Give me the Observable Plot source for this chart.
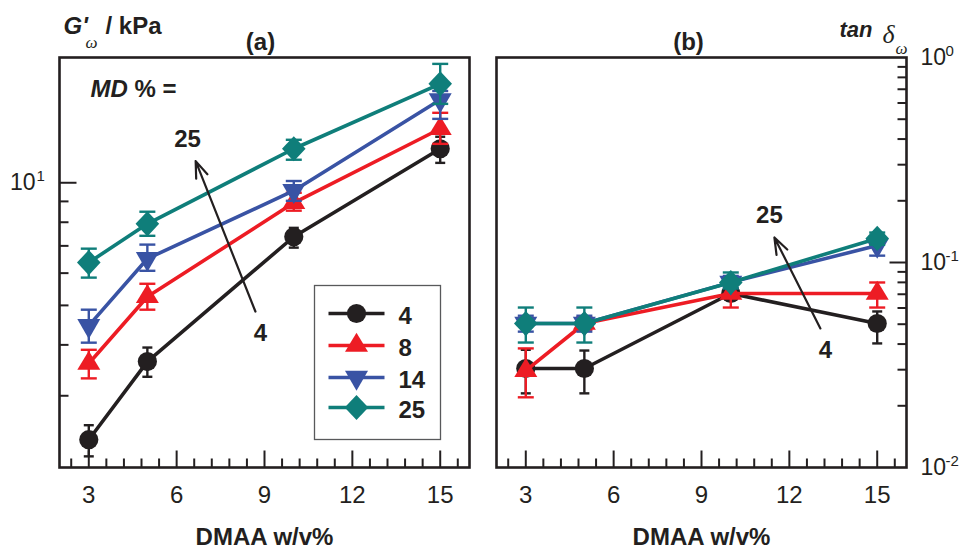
<!DOCTYPE html>
<html><head><meta charset="utf-8">
<script src="https://cdn.jsdelivr.net/npm/d3@7"></script>
<script src="https://cdn.jsdelivr.net/npm/@observablehq/plot@0.6"></script>
<style>
html,body{margin:0;padding:0;background:#fff;}
#wrap{display:flex;width:962px;height:550px;overflow:hidden;}
#wrap svg{display:block;}
</style></head><body><div id="wrap"></div>
<script>
// ---------- data ----------
const dmaa = [3, 5, 10, 15];
const mdLevels = ["4", "8", "14", "25"];
const seriesColors = ["#231f20", "#ed1c24", "#3953a4", "#0f7e7a"];

// (a) G'_omega / kPa  (value, lower, upper)
const g4   = [2.34, 3.64, 7.37, 12.12];
const g4Lo = [2.13, 3.34, 6.93, 11.19];
const g4Hi = [2.54, 3.94, 7.75, 12.97];
const g8   = [3.60, 5.25, 8.93, 13.57];
const g8Lo = [3.31, 4.88, 8.54, 12.46];
const g8Hi = [3.89, 5.65, 9.45, 14.85];
const g14   = [4.46, 6.51, 9.56, 15.98];
const g14Lo = [4.05, 6.08, 9.03, 14.35];
const g14Hi = [4.88, 7.05, 10.1, 16.8];
const g25   = [6.37, 7.93, 12.12, 17.49];
const g25Lo = [5.85, 7.41, 11.39, 15.62];
const g25Hi = [6.89, 8.49, 12.75, 19.58];

// (b) tan delta_omega
const t4   = [0.0304, 0.0304, 0.0706, 0.0504];
const t4Lo = [0.0230, 0.0230, 0.0660, 0.0403];
const t4Hi = [0.0375, 0.0372, 0.0750, 0.0577];
const t8   = [0.0297, 0.0504, 0.0706, 0.0706];
const t8Lo = [0.0220, 0.0470, 0.0603, 0.0603];
const t8Hi = [0.0381, 0.0540, 0.0790, 0.0799];
const t14   = [0.0504, 0.0504, 0.0800, 0.121];
const t14Lo = [0.0460, 0.0460, 0.0750, 0.108];
const t14Hi = [0.0550, 0.0550, 0.0860, 0.134];
const t25   = [0.0504, 0.0504, 0.0799, 0.131];
const t25Lo = [0.0407, 0.0407, 0.0747, 0.122];
const t25Hi = [0.0603, 0.0603, 0.0894, 0.140];

// axes ticks
const xMajor = [3, 6, 9, 12, 15];
const xMinor = [2.4, 3.6, 4.2, 4.8, 5.4, 6.6, 7.2, 7.8, 8.4, 9.6, 10.2, 10.8, 11.4, 12.6, 13.2, 13.8, 14.4, 15.6];
const gMajor = [10];
const gMinor = [3, 4, 5, 6, 7, 8, 9];
const gLabels = [{v: 10, base: "10", exp: "1"}];
const tMajor = [0.1];
const tMinor = [0.02, 0.03, 0.04, 0.05, 0.06, 0.07, 0.08, 0.09, 0.2, 0.3, 0.4, 0.5, 0.6, 0.7, 0.8, 0.9];
const tLabels = [{v: 1, base: "10", exp: "0"}, {v: 0.1, base: "10", exp: "-1"}, {v: 0.01, base: "10", exp: "-2"}];

// annotations
const arrowA = [{x1: 8.69, y1: 4.83, x2: 6.65, y2: 11.3}];
const notesA = [{x: 6.37, y: 12.75, text: "25"}, {x: 8.86, y: 4.26, text: "4"}];
const arrowB = [{x1: 13.06, y1: 0.0477, x2: 11.49, y2: 0.1324}];
const notesB = [{x: 11.32, y: 0.1696, text: "25"}, {x: 13.23, y: 0.0372, text: "4"}];

// ---------- helpers ----------
const ink = "#231f20";
const sans = "Liberation Sans, Arial, Helvetica, sans-serif";
const serif = "Liberation Serif, Times New Roman, serif";

const sym = {
  circle: {draw(c) { const r = 9.6; c.moveTo(r, 0); c.arc(0, 0, r, 0, 2 * Math.PI); }},
  up: {draw(c) { const w = 23, h = 19; c.moveTo(0, -2 * h / 3); c.lineTo(w / 2, h / 3); c.lineTo(-w / 2, h / 3); c.closePath(); }},
  down: {draw(c) { const w = 23, h = 20; c.moveTo(0, 2 * h / 3); c.lineTo(w / 2, -h / 3); c.lineTo(-w / 2, -h / 3); c.closePath(); }},
  diamond: {draw(c) { const w = 11.8, h = 12.6; c.moveTo(0, -h); c.lineTo(w, 0); c.lineTo(0, h); c.lineTo(-w, 0); c.closePath(); }}
};
const markerSyms = [sym.circle, sym.up, sym.down, sym.diamond];
const capW = [10, 16, 16, 16];
const hline = (a, b) => ({draw(c) { c.moveTo(a, 0); c.lineTo(b, 0); }});
const vline = (a, b) => ({draw(c) { c.moveTo(0, a); c.lineTo(0, b); }});

function rows(vals, lo, hi) {
  return dmaa.map((x, i) => ({x, v: vals[i], lo: lo[i], hi: hi[i]}));
}

function seriesMarks(sets) {
  const m = [];
  sets.forEach((data, i) => {
    const col = seriesColors[i];
    m.push(Plot.line(data, {x: "x", y: "v", stroke: col, strokeWidth: 3.6}));
    m.push(Plot.ruleX(data, {x: "x", y1: "lo", y2: "hi", stroke: col, strokeWidth: 2.4}));
    m.push(Plot.dot(data, {x: "x", y: "lo", symbol: hline(-capW[i] / 2, capW[i] / 2), stroke: col, strokeWidth: 2.4, fill: "none"}));
    m.push(Plot.dot(data, {x: "x", y: "hi", symbol: hline(-capW[i] / 2, capW[i] / 2), stroke: col, strokeWidth: 2.4, fill: "none"}));
    m.push(Plot.dot(data, {x: "x", y: "v", symbol: markerSyms[i], fill: col, stroke: "none"}));
  });
  return m;
}

function xAxisMarks() {
  return [
    Plot.dot(xMajor, {x: d => d, frameAnchor: "bottom", symbol: vline(0, -17), stroke: ink, strokeWidth: 2, fill: "none"}),
    Plot.dot(xMinor, {x: d => d, frameAnchor: "bottom", symbol: vline(0, -9), stroke: ink, strokeWidth: 2, fill: "none"}),
    Plot.text(xMajor, {x: d => d, text: d => String(d), frameAnchor: "bottom", dy: 35, lineAnchor: "bottom", fontSize: 24, fontFamily: sans, fill: ink}),
    Plot.text(["DMAA w/v%"], {frameAnchor: "bottom", dy: 77, lineAnchor: "bottom", fontSize: 24, fontWeight: "bold", fontFamily: sans, fill: ink})
  ];
}

const style = {fontFamily: sans, background: "#fff", overflow: "visible", color: ink};

// ---------- panel (a) ----------
const setsA = [rows(g4, g4Lo, g4Hi), rows(g8, g8Lo, g8Hi), rows(g14, g14Lo, g14Hi), rows(g25, g25Lo, g25Hi)];
const legendRows = [256, 288, 320, 350];
const legendMarks = [
  Plot.frame({stroke: "#58595b", strokeWidth: 1.3, insetLeft: 255, insetRight: 29, insetTop: 228, insetBottom: 28})
];
mdLevels.forEach((lab, i) => {
  legendMarks.push(Plot.dot([lab], {frameAnchor: "top-left", dx: 297, dy: legendRows[i], symbol: hline(-28, 28), stroke: seriesColors[i], strokeWidth: 3.6, fill: "none"}));
  legendMarks.push(Plot.dot([lab], {frameAnchor: "top-left", dx: 297, dy: legendRows[i], symbol: markerSyms[i], fill: seriesColors[i], stroke: "none"}));
  legendMarks.push(Plot.text([lab], {frameAnchor: "top-left", dx: 339, dy: legendRows[i] + 10, text: d => d, textAnchor: "start", lineAnchor: "bottom", fontSize: 24, fontWeight: "bold", fontFamily: sans, fill: ink}));
});

const plotA = Plot.plot({
  width: 481, height: 550,
  marginLeft: 59, marginRight: 12, marginTop: 57, marginBottom: 83,
  x: {domain: [2, 16], axis: null},
  y: {type: "log", domain: [2, 20.3], axis: null},
  style,
  marks: [
    ...xAxisMarks(),
    Plot.dot(gMajor, {y: d => d, frameAnchor: "left", symbol: hline(0, 17), stroke: ink, strokeWidth: 2, fill: "none"}),
    Plot.dot(gMinor, {y: d => d, frameAnchor: "left", symbol: hline(0, 9), stroke: ink, strokeWidth: 2, fill: "none"}),
    Plot.text(gLabels, {y: "v", text: "base", frameAnchor: "left", dx: -24, dy: 7, textAnchor: "end", lineAnchor: "bottom", fontSize: 23, fontFamily: sans, fill: ink}),
    Plot.text(gLabels, {y: "v", text: "exp", frameAnchor: "left", dx: -23, dy: -2, textAnchor: "start", lineAnchor: "bottom", fontSize: 15, fontFamily: sans, fill: ink}),
    Plot.text(["G'"], {frameAnchor: "top-left", dx: 4, dy: -24, textAnchor: "start", lineAnchor: "bottom", fontSize: 24, fontWeight: "bold", fontStyle: "italic", fontFamily: sans, fill: ink}),
    Plot.text(["ω"], {frameAnchor: "top-left", dx: 26, dy: -10, textAnchor: "start", lineAnchor: "bottom", fontSize: 17, fontStyle: "italic", fontFamily: serif, fill: ink}),
    Plot.text(["/ kPa"], {frameAnchor: "top-left", dx: 46, dy: -24, textAnchor: "start", lineAnchor: "bottom", fontSize: 24, fontWeight: "bold", fontFamily: sans, fill: ink}),
    Plot.text(["(a)"], {frameAnchor: "top", dx: -4, dy: -8, lineAnchor: "bottom", fontSize: 24, fontWeight: "bold", fontFamily: sans, fill: ink}),
    Plot.text(["MD"], {frameAnchor: "top-left", dx: 31, dy: 39, textAnchor: "start", lineAnchor: "bottom", fontSize: 24, fontWeight: "bold", fontStyle: "italic", fontFamily: sans, fill: ink}),
    Plot.text(["% ="], {frameAnchor: "top-left", dx: 75, dy: 39, textAnchor: "start", lineAnchor: "bottom", fontSize: 24, fontWeight: "bold", fontFamily: sans, fill: ink}),
    ...seriesMarks(setsA),
    Plot.arrow(arrowA, {x1: "x1", y1: "y1", x2: "x2", y2: "y2", stroke: ink, strokeWidth: 2.2, headLength: 12, headAngle: 40}),
    Plot.text(notesA, {x: "x", y: "y", text: "text", fontSize: 24, fontWeight: "bold", fontFamily: sans, fill: ink}),
    ...legendMarks,
    Plot.frame({stroke: ink, strokeWidth: 2.6})
  ]
});

// ---------- panel (b) ----------
const setsB = [rows(t4, t4Lo, t4Hi), rows(t8, t8Lo, t8Hi), rows(t14, t14Lo, t14Hi), rows(t25, t25Lo, t25Hi)];
const plotB = Plot.plot({
  width: 481, height: 550,
  marginLeft: 15, marginRight: 56, marginTop: 57, marginBottom: 83,
  x: {domain: [2, 16], axis: null},
  y: {type: "log", domain: [0.01, 1], axis: null},
  style,
  marks: [
    ...xAxisMarks(),
    Plot.dot(tMajor, {y: d => d, frameAnchor: "right", symbol: hline(0, -17), stroke: ink, strokeWidth: 2, fill: "none"}),
    Plot.dot(tMinor, {y: d => d, frameAnchor: "right", symbol: hline(0, -9), stroke: ink, strokeWidth: 2, fill: "none"}),
    Plot.text(tLabels, {y: "v", text: "base", frameAnchor: "right", dx: 14, dy: 7, textAnchor: "start", lineAnchor: "bottom", fontSize: 23, fontFamily: sans, fill: ink}),
    Plot.text(tLabels, {y: "v", text: "exp", frameAnchor: "right", dx: 39, dy: -2, textAnchor: "start", lineAnchor: "bottom", fontSize: 15, fontFamily: sans, fill: ink}),
    Plot.text(["(b)"], {frameAnchor: "top", dx: -13, dy: -8, lineAnchor: "bottom", fontSize: 24, fontWeight: "bold", fontFamily: sans, fill: ink}),
    Plot.text(["tan"], {frameAnchor: "top-right", dx: -67, dy: -21, textAnchor: "start", lineAnchor: "bottom", fontSize: 22, fontWeight: "bold", fontStyle: "italic", fontFamily: sans, fill: ink}),
    Plot.text(["δ"], {frameAnchor: "top-right", dx: -24, dy: -15, textAnchor: "start", lineAnchor: "bottom", fontSize: 26, fontStyle: "italic", fontFamily: serif, fill: ink}),
    Plot.text(["ω"], {frameAnchor: "top-right", dx: -11, dy: -4, textAnchor: "start", lineAnchor: "bottom", fontSize: 17, fontStyle: "italic", fontFamily: serif, fill: ink}),
    ...seriesMarks(setsB),
    Plot.arrow(arrowB, {x1: "x1", y1: "y1", x2: "x2", y2: "y2", stroke: ink, strokeWidth: 2.2, headLength: 12, headAngle: 40}),
    Plot.text(notesB, {x: "x", y: "y", text: "text", fontSize: 24, fontWeight: "bold", fontFamily: sans, fill: ink}),
    Plot.frame({stroke: ink, strokeWidth: 2.6})
  ]
});

document.getElementById("wrap").append(plotA, plotB);
</script></body></html>
